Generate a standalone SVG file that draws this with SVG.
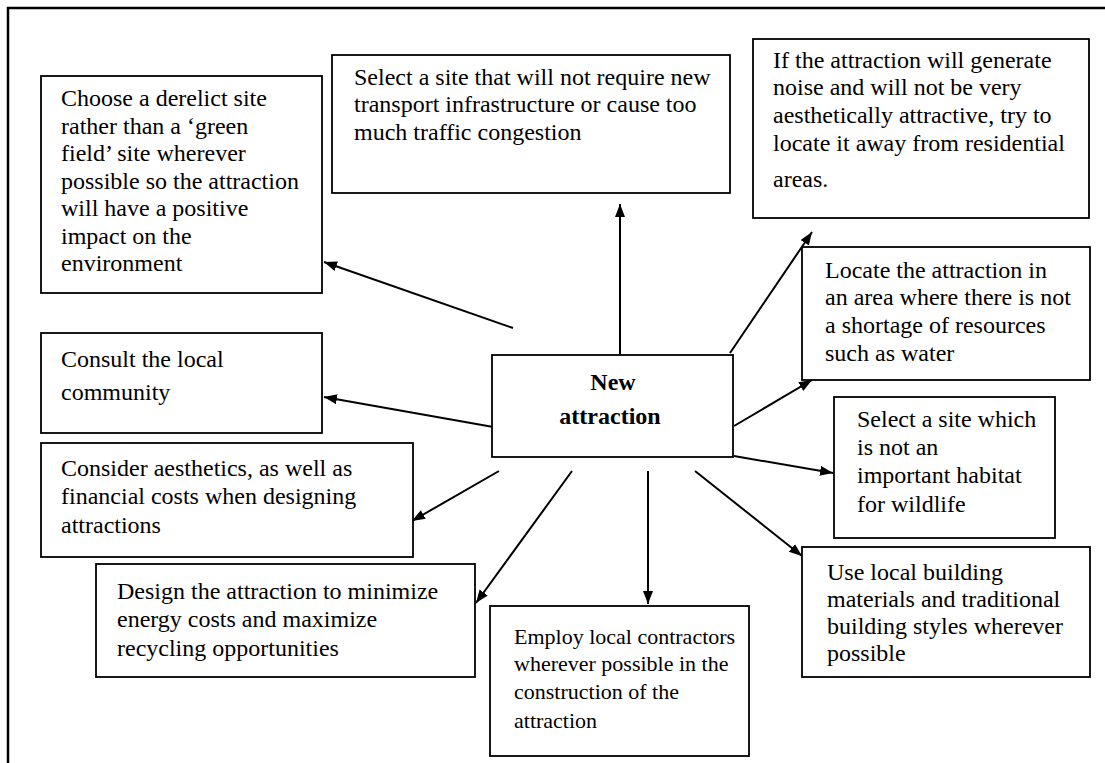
<svg xmlns="http://www.w3.org/2000/svg" width="1105" height="763" viewBox="0 0 1105 763">
<style>
.box{fill:#fff;stroke:#000;stroke-width:1.8}
.t{font-family:"Liberation Serif","Times New Roman",serif;font-size:24px;fill:#000}
.s{font-size:22px}
.b{font-weight:bold;text-anchor:middle}
.c{stroke:#000;stroke-width:2;fill:none;marker-end:url(#ah)}
</style>
<defs>
<marker id="ah" markerUnits="userSpaceOnUse" markerWidth="14" markerHeight="12" refX="13" refY="5" orient="auto">
<path d="M0,0 L13,5 L0,10 Z" fill="#000"/>
</marker>
</defs>
<rect width="1105" height="763" fill="#fff"/>
<path d="M8,763 V8 H1105" fill="none" stroke="#000" stroke-width="2.5"/>
<g id="connectors">
<line class="c" x1="513" y1="328" x2="324" y2="262"/>
<line class="c" x1="620" y1="354" x2="620" y2="204"/>
<line class="c" x1="730" y1="353" x2="812" y2="232"/>
<line class="c" x1="734" y1="426" x2="812" y2="380"/>
<line class="c" x1="734" y1="456" x2="833" y2="473"/>
<line class="c" x1="695" y1="471" x2="802" y2="556"/>
<line class="c" x1="648" y1="471" x2="648" y2="604"/>
<line class="c" x1="572" y1="471" x2="476" y2="603"/>
<line class="c" x1="499" y1="471" x2="412" y2="521"/>
<line class="c" x1="499" y1="428" x2="324" y2="397"/>
</g>
<g id="n-choose">
<rect class="box" x="41" y="76" width="281" height="217"/>
<text class="t" x="61" y="106">Choose a derelict site</text>
<text class="t" x="61" y="133.5">rather than a ‘green</text>
<text class="t" x="61" y="161">field’ site wherever</text>
<text class="t" x="61" y="188.5">possible so the attraction</text>
<text class="t" x="61" y="216">will have a positive</text>
<text class="t" x="61" y="243.5">impact on the</text>
<text class="t" x="61" y="271">environment</text>
</g>
<g id="n-select-site">
<rect class="box" x="332" y="55" width="398" height="138"/>
<text class="t" x="354" y="85">Select a site that will not require new</text>
<text class="t" x="354" y="112">transport infrastructure or cause too</text>
<text class="t" x="354" y="140">much traffic congestion</text>
</g>
<g id="n-noise">
<rect class="box" x="753" y="39" width="336" height="179"/>
<text class="t" x="773" y="68">If the attraction will generate</text>
<text class="t" x="773" y="95">noise and will not be very</text>
<text class="t" x="773" y="123">aesthetically attractive, try to</text>
<text class="t" x="773" y="151">locate it away from residential</text>
<text class="t" x="773" y="187">areas.</text>
</g>
<g id="n-resources">
<rect class="box" x="802" y="247" width="288" height="133"/>
<text class="t" x="825" y="278">Locate the attraction in</text>
<text class="t" x="825" y="305">an area where there is not</text>
<text class="t" x="825" y="333">a shortage of resources</text>
<text class="t" x="825" y="361">such as water</text>
</g>
<g id="n-consult">
<rect class="box" x="41" y="333" width="281" height="100"/>
<text class="t" x="61" y="367">Consult the local</text>
<text class="t" x="61" y="400">community</text>
</g>
<g id="n-center">
<rect class="box" x="492" y="355" width="241" height="102"/>
<text class="t b" x="613" y="390">New</text>
<text class="t b" x="610" y="424">attraction</text>
</g>
<g id="n-habitat">
<rect class="box" x="834" y="397" width="221" height="141"/>
<text class="t" x="857" y="427">Select a site which</text>
<text class="t" x="857" y="455">is not an</text>
<text class="t" x="857" y="483">important habitat</text>
<text class="t" x="857" y="512">for wildlife</text>
</g>
<g id="n-aesthetics">
<rect class="box" x="41" y="443" width="372" height="114"/>
<text class="t" x="61" y="476">Consider aesthetics, as well as</text>
<text class="t" x="61" y="504">financial costs when designing</text>
<text class="t" x="61" y="533">attractions</text>
</g>
<g id="n-energy">
<rect class="box" x="96" y="564" width="379" height="113"/>
<text class="t" x="117" y="599">Design the attraction to minimize</text>
<text class="t" x="117" y="627">energy costs and maximize</text>
<text class="t" x="117" y="656">recycling opportunities</text>
</g>
<g id="n-materials">
<rect class="box" x="802" y="547" width="288" height="130"/>
<text class="t" x="827" y="580"> Use local building</text>
<text class="t" x="827" y="607">materials and traditional</text>
<text class="t" x="827" y="634">building styles wherever</text>
<text class="t" x="827" y="661">possible</text>
</g>
<g id="n-contractors">
<rect class="box" x="490" y="606" width="259" height="150"/>
<text class="t s" x="514" y="644">Employ local contractors</text>
<text class="t s" x="514" y="671">wherever possible in the</text>
<text class="t s" x="514" y="699">construction of the</text>
<text class="t s" x="514" y="728">attraction</text>
</g>
</svg>
